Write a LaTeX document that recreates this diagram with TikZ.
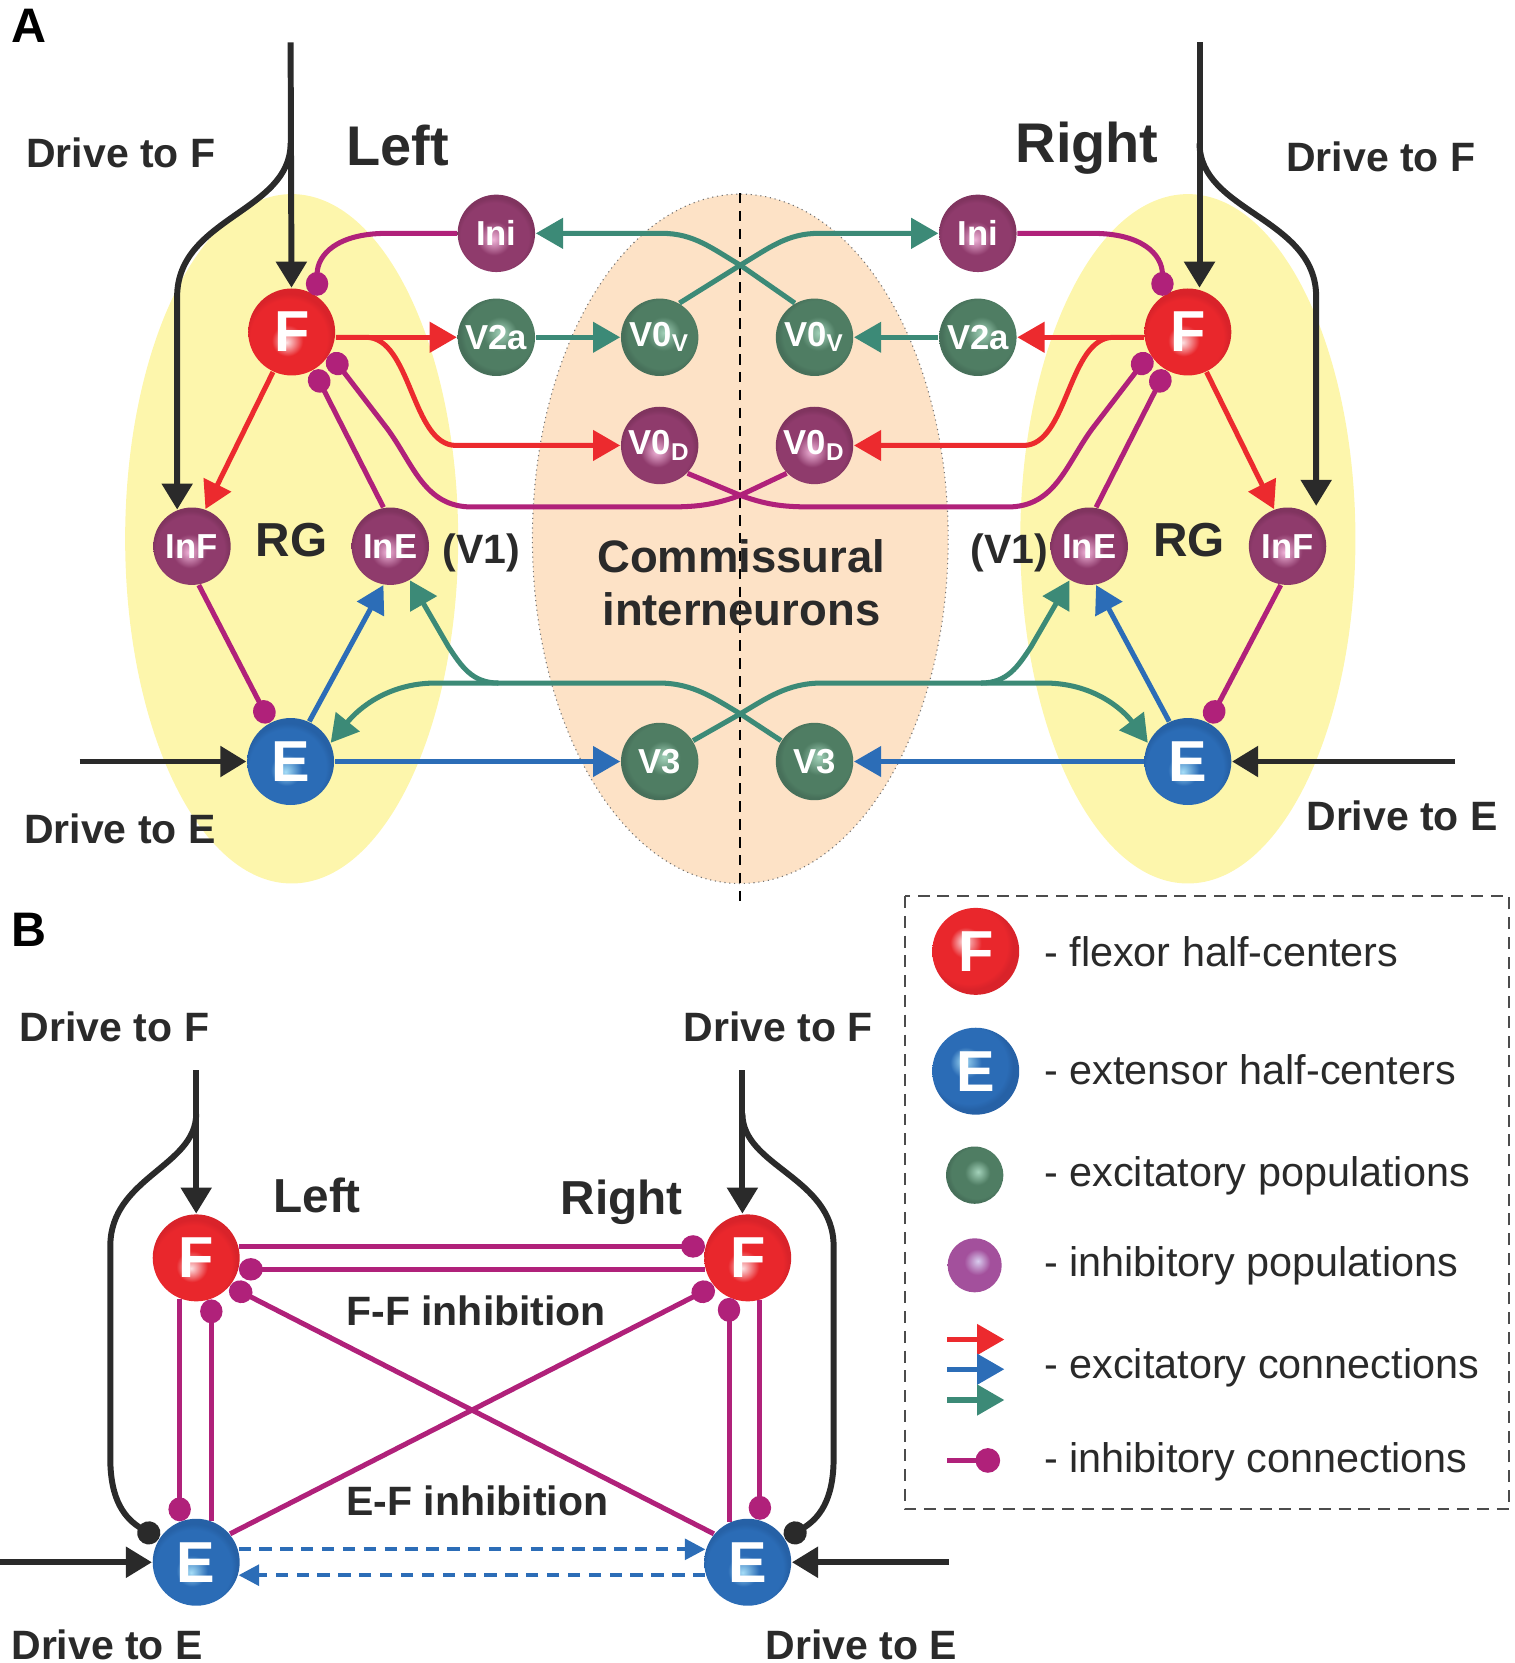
\documentclass[tikz,border=0pt]{standalone}
\usepackage{fontspec}
\setmainfont{Liberation Sans}
\usepackage{tikz}
\usetikzlibrary{arrows.meta,positioning,shapes}

\definecolor{txt}{HTML}{2A2A2A}
\definecolor{cF}{HTML}{E9272C}
\definecolor{cFh}{HTML}{FCE0E2}
\definecolor{cFd}{HTML}{D9232A}
\definecolor{cE}{HTML}{2B6CB6}
\definecolor{cEh}{HTML}{A5DDF7}
\definecolor{cEd}{HTML}{2661A6}
\definecolor{cG}{HTML}{4F7D63}
\definecolor{cGh}{HTML}{A3D2BA}
\definecolor{cGd}{HTML}{47705A}
\definecolor{cP}{HTML}{8F3B6C}
\definecolor{cPh}{HTML}{F0B4D9}
\definecolor{cPd}{HTML}{80345F}
\definecolor{cL}{HTML}{A3509C}
\definecolor{cLh}{HTML}{D8CCEE}
\definecolor{lred}{HTML}{EC2A2E}
\definecolor{lblue}{HTML}{2C6DB7}
\definecolor{lgreen}{HTML}{3C8A77}
\definecolor{lmag}{HTML}{B0217A}
\definecolor{rgfill}{HTML}{FDF6AC}
\definecolor{cifill}{HTML}{FDE2C6}

\pgfdeclareradialshading{ballF}{\pgfpoint{-3bp}{-6bp}}{color(0bp)=(cFh); color(9bp)=(cF); color(22bp)=(cF); color(25bp)=(cFd); color(50bp)=(cFd)}
\pgfdeclareradialshading{ballE}{\pgfpoint{-3bp}{-6bp}}{color(0bp)=(cEh); color(9bp)=(cE); color(22bp)=(cE); color(25bp)=(cEd); color(50bp)=(cEd)}
\pgfdeclareradialshading{ballFl}{\pgfpoint{-7bp}{6bp}}{color(0bp)=(cFh); color(9bp)=(cF); color(22bp)=(cF); color(25bp)=(cFd); color(50bp)=(cFd)}
\pgfdeclareradialshading{ballEl}{\pgfpoint{-7bp}{6bp}}{color(0bp)=(cEh); color(9bp)=(cE); color(22bp)=(cE); color(25bp)=(cEd); color(50bp)=(cEd)}
\pgfdeclareradialshading{ballG}{\pgfpoint{3bp}{3bp}}{color(0bp)=(cGh); color(11bp)=(cG); color(22bp)=(cG); color(25bp)=(cGd); color(50bp)=(cGd)}
\pgfdeclareradialshading{ballP}{\pgfpoint{-2bp}{-4bp}}{color(0bp)=(cPh); color(11bp)=(cP); color(22bp)=(cP); color(25bp)=(cPd); color(50bp)=(cPd)}
\pgfdeclareradialshading{ballL}{\pgfpoint{3bp}{4bp}}{color(0bp)=(cLh); color(12bp)=(cL); color(25bp)=(cL); color(50bp)=(cL)}

\tikzset{
  hc/.style={circle, inner sep=0pt, minimum size=8.2mm, shade, text=white,
             font=\fontsize{15.5}{16}\selectfont\bfseries},
  pop/.style={circle, inner sep=0pt, minimum size=7.3mm, shade, text=white,
              font=\fontsize{9.3}{10}\selectfont\bfseries},
  lbl/.style={text=txt, inner sep=0pt, anchor=base, font=\fontsize{11}{12}\selectfont\bfseries},
  biglbl/.style={lbl, font=\fontsize{15}{16}\selectfont\bfseries},
  midlbl/.style={lbl, font=\fontsize{12.8}{14}\selectfont\bfseries},
  leg/.style={text=txt, inner sep=0pt, anchor=base west, font=\fontsize{11.1}{12}\selectfont},
  toRed/.style={draw=lred, line width=1.35pt, -{Triangle[length=7.3pt,width=8pt]}},
  toBlue/.style={draw=lblue, line width=1.35pt, -{Triangle[length=7.3pt,width=8pt]}},
  toGreen/.style={draw=lgreen, line width=1.35pt, -{Triangle[length=7.3pt,width=8pt]}},
  inh/.style={draw=lmag, line width=1.35pt, -{Circle[length=6.4pt,width=6pt]}},
  drv/.style={draw=txt, line width=1.6pt, -{Triangle[length=7pt,width=8pt]}},
  drvdot/.style={draw=txt, line width=1.6pt, -{Circle[length=6.2pt]}}
}

\begin{document}
\begin{tikzpicture}[x=0.1mm, y=-0.1mm]
\useasboundingbox (0,0) rectangle (1428,1568);

\fill[rgfill] (275,508) ellipse (157 and 325);
\fill[rgfill] (1120,508) ellipse (158 and 325);
\filldraw[fill=cifill, draw=black!55, densely dotted, line width=0.3pt] (698,508) ellipse (196 and 325);
\draw[black, line width=0.6pt, dash pattern=on 2.8pt off 2pt] (698,182) -- (698,852);

\node[hc, shading=ballF] (lF) at (275,313) {F};
\node[pop, shading=ballP] (lIni) at (468,220) {Ini};
\node[pop, shading=ballG] (lV2a) at (468,318) {V2a};
\node[pop, shading=ballG] (lV0v) at (622,318) {V0\textsubscript{V}};
\node[pop, shading=ballP] (lV0d) at (622,420) {V0\textsubscript{D}};
\node[pop, shading=ballP] (lInF) at (181,515) {InF};
\node[pop, shading=ballP] (lInE) at (368,515) {InE};
\node[hc, shading=ballE] (lE) at (274,718) {E};
\node[pop, shading=ballG] (lV3) at (622,718) {V3};

\node[hc, shading=ballF] (rF) at (1120,313) {F};
\node[pop, shading=ballP] (rIni) at (922,220) {Ini};
\node[pop, shading=ballG] (rV2a) at (922,318) {V2a};
\node[pop, shading=ballG] (rV0v) at (768,318) {V0\textsubscript{V}};
\node[pop, shading=ballP] (rV0d) at (768,420) {V0\textsubscript{D}};
\node[pop, shading=ballP] (rInF) at (1214,515) {InF};
\node[pop, shading=ballP] (rInE) at (1027,515) {InE};
\node[hc, shading=ballE] (rE) at (1120,718) {E};
\node[pop, shading=ballG] (rV3) at (768,718) {V3};

\draw[toRed] (lF.east |- lV2a) -- (lV2a);
\draw[toGreen] (lV2a) -- (lV0v);
\draw[toRed] (lF.east |- lV2a) -- (345,318) .. controls (388,318) and (388,420) .. (430,420) -- (lV0d);
\draw[toRed] (lF.-115) -- (lInF.70);
\draw[inh] (lIni) -- (365,220) .. controls (318,220) and (299,240) .. (lF.55);
\draw[inh] (lInE.100) -- (lF.-60);
\draw[inh] (lInF.-80) -- (lE.118);
\draw[toBlue] (lE.65) -- (lInE.-100);
\draw[toBlue] (lE) -- (lV3);

\draw[toRed] (rF.west |- rV2a) -- (rV2a);
\draw[toGreen] (rV2a) -- (rV0v);
\draw[toRed] (rF.west |- rV2a) -- (1050,318) .. controls (1007,318) and (1007,420) .. (965,420) -- (rV0d);
\draw[toRed] (rF.-65) -- (rInF.110);
\draw[inh] (rIni) -- (1030,220) .. controls (1077,220) and (1096,240) .. (rF.125);
\draw[inh] (rInE.80) -- (rF.240);
\draw[inh] (rInF.-100) -- (rE.62);
\draw[toBlue] (rE.115) -- (rInE.-80);
\draw[toBlue] (rE) -- (rV3);

\draw[toGreen] (lV0v.60) -- (698,250) .. controls (725,234) and (742,220) .. (772,220) -- (rIni);
\draw[toGreen] (rV0v.120) -- (698,250) .. controls (671,234) and (654,220) .. (624,220) -- (lIni);
\draw[inh] (lV0d.-45) -- (698,467) .. controls (728,478) and (745,478) .. (775,478) -- (950,478)
      .. controls (995,478) and (1005,438) .. (1030,404) -- (rF.210);
\draw[inh] (rV0d.225) -- (698,467) .. controls (668,478) and (651,478) .. (621,478) -- (445,478)
      .. controls (400,478) and (390,438) .. (365,404) -- (lF.-30);

\coordinate (lBr) at (470,644);
\coordinate (rBr) at (925,644);
\draw[toGreen] (lV3.32) -- (698,673) .. controls (722,659) and (742,644) .. (775,644) -- (985,644)
      .. controls (1030,644) and (1058,668) .. (rE.155);
\draw[toGreen] (rV3.148) -- (698,673) .. controls (674,659) and (654,644) .. (621,644) -- (411,644)
      .. controls (366,644) and (338,668) .. (lE.25);
\draw[toGreen] (rBr) .. controls (950,644) and (960,628) .. (972,610) -- (rInE.240);
\draw[toGreen] (lBr) .. controls (445,644) and (435,628) .. (423,610) -- (lInE.300);

\coordinate (lDF) at (274,40);
\coordinate (lDFb) at (274,135);
\coordinate (rDF) at (1131,40);
\coordinate (rDFb) at (1131,135);
\coordinate (rDFe) at (1241,477);
\coordinate (lDE) at (75,718);
\coordinate (rDE) at (1372,718);
\draw[drv] (lDF) -- (lF);
\draw[drv] (lDFb) .. controls (274,200) and (167,205) .. (167,280) -- (lInF.112);
\draw[drv] (rDF) -- (rDF |- rF.north);
\draw[drv] (rDFb) .. controls (1131,200) and (1241,205) .. (1241,280) -- (rDFe);
\draw[drv] (lDE) -- (lE);
\draw[drv] (rDE) -- (rE);

\node[lbl, text=black, font=\fontsize{13}{14}\selectfont\bfseries] (tA) at (27,40) {A};
\node[lbl] (tDFl) at (114,158) {Drive to F};
\node[lbl] (tDFr) at (1302,162) {Drive to F};
\node[biglbl] (tLeft) at (375,156) {Left};
\node[biglbl] (tRight) at (1025,153) {Right};
\node[midlbl] (tRGl) at (275,525) {RG};
\node[midlbl] (tRGr) at (1121,525) {RG};
\node[lbl] (tV1l) at (454,531) {(V1)};
\node[lbl] (tV1r) at (952,531) {(V1)};
\node[lbl, font=\fontsize{12.2}{13}\selectfont\bfseries] (tCom1) at (699,540) {Commissural};
\node[lbl, font=\fontsize{12.2}{13}\selectfont\bfseries] (tCom2) at (699,590) {interneurons};
\node[lbl] (tDEl) at (113,795) {Drive to E};
\node[lbl] (tDEr) at (1322,783) {Drive to E};

\node[hc, shading=ballF] (bLF) at (185,1186) {F};
\node[hc, shading=ballF] (bRF) at (705,1186) {F};
\node[hc, shading=ballE] (bLE) at (185,1473) {E};
\node[hc, shading=ballE] (bRE) at (705,1473) {E};

\draw[inh] (bLF.15) -- (bRF.165);
\draw[inh] (bRF.-165) -- (bLF.-15);
\draw[inh] (bLE.40) -- (bRF.-140);
\draw[inh] (bRE.140) -- (bLF.-40);
\draw[inh] (bLF.-112) -- (bLE.112);
\draw[inh] (bLE.70) -- (bLF.-70);
\draw[inh] (bRF.-74) -- (bRE.74);
\draw[inh] (bRE.115) -- (bRF.-115);
\draw[draw=lblue, line width=1.1pt, dash pattern=on 3.3pt off 2.3pt, -{Triangle[length=5.5pt,width=5.5pt]}] (bLE.17) -- (bRE.163);
\draw[draw=lblue, line width=1.1pt, dash pattern=on 3.3pt off 2.3pt, -{Triangle[length=5.5pt,width=5.5pt]}] (bRE.-163) -- (bLE.-17);

\coordinate (bLD) at (185,1009);
\coordinate (bLDb) at (185,1050);
\coordinate (bRD) at (700,1009);
\coordinate (bRDb) at (700,1050);
\coordinate (bLDE) at (0,1473);
\coordinate (bRDE) at (895,1473);
\draw[drv] (bLD) -- (bLF);
\draw[drvdot] (bLDb) .. controls (185,1100) and (104,1110) .. (104,1175) -- (104,1375)
      .. controls (104,1415) and (118,1432) .. (bLE.148);
\draw[drv] (bRD) -- (bRD |- bRF.north);
\draw[drvdot] (bRDb) .. controls (700,1100) and (786,1110) .. (786,1175) -- (786,1375)
      .. controls (786,1415) and (772,1432) .. (bRE.32);
\draw[drv] (bLDE) -- (bLE);
\draw[drv] (bRDE) -- (bRE);

\node[lbl, text=black, font=\fontsize{13}{14}\selectfont\bfseries] (tB) at (27,892) {B};
\node[lbl] (tbDFl) at (108,982) {Drive to F};
\node[lbl] (tbDFr) at (734,982) {Drive to F};
\node[midlbl] (tbLeft) at (299,1143) {Left};
\node[midlbl] (tbRight) at (586,1145) {Right};
\node[lbl] (tFF) at (449,1250) {F-F inhibition};
\node[lbl] (tEF) at (450,1429) {E-F inhibition};
\node[lbl] (tbDEl) at (101,1565) {Drive to E};
\node[lbl] (tbDEr) at (812,1565) {Drive to E};

\draw[black!70, line width=0.5pt, dash pattern=on 3.2pt off 2.1pt] (853,845) rectangle (1423,1423);
\node[hc, shading=ballFl] (lgF) at (920,897) {F};
\node[hc, shading=ballEl] (lgE) at (920,1010) {E};
\node[circle, inner sep=0pt, minimum size=5.4mm, shade, shading=ballG] (lgExc) at (919,1108) {};
\node[circle, inner sep=0pt, minimum size=5.1mm, shade, shading=ballL] (lgInh) at (919,1193) {};
\coordinate (lgR) at (893,1263);
\coordinate (lgB) at (893,1291);
\coordinate (lgG) at (893,1320);
\coordinate (lgI) at (893,1377);
\draw[toRed] (lgR) -- ++(54,0);
\draw[toBlue] (lgB) -- ++(54,0);
\draw[toGreen] (lgG) -- ++(54,0);
\draw[inh, -{Circle[length=6.6pt]}] (lgI) -- ++(50,0);
\node[leg] (lgtF) at (984,911) {- flexor half-centers};
\node[leg] (lgtE) at (984,1023) {- extensor half-centers};
\node[leg] (lgtExc) at (984,1119) {- excitatory populations};
\node[leg] (lgtInh) at (984,1204) {- inhibitory populations};
\node[leg] (lgtCx) at (984,1300) {- excitatory connections};
\node[leg] (lgtCi) at (984,1388) {- inhibitory connections};
\end{tikzpicture}
\end{document}
